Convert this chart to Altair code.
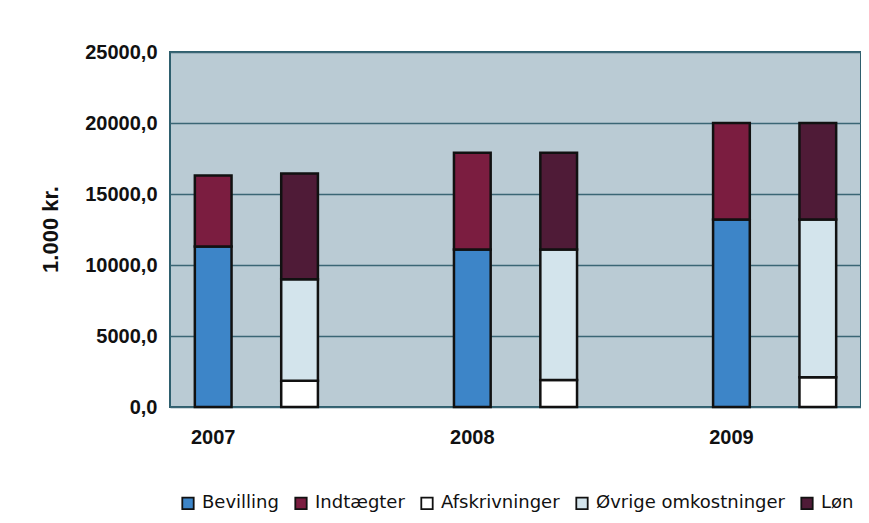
import altair as alt
import pandas as pd

years = ["2007", "2008", "2009"]
series = ["Bevilling", "Indtægter", "Afskrivninger", "Øvrige omkostninger", "Løn"]
colors = ["#3d85c8", "#7b1d40", "#ffffff", "#d3e4ec", "#4f1b37"]

bevilling = [11300, 11100, 13200]
indtaegter = [5000, 6800, 6800]
afskrivninger = [1850, 1900, 2100]
ovrige = [7150, 9200, 11100]
lon = [7450, 6800, 6800]

y_ticks = [0, 5000, 10000, 15000, 20000, 25000]

slots = ["2007", "2007 ", "g1", "2008", "2008 ", "g2", "2009", "2009 "]

rows = []
for i, yr in enumerate(years):
    left = yr
    right = yr + " "
    rows.append({"slot": left, "serie": "Bevilling", "value": bevilling[i], "ord": 0})
    rows.append({"slot": left, "serie": "Indtægter", "value": indtaegter[i], "ord": 1})
    rows.append({"slot": right, "serie": "Afskrivninger", "value": afskrivninger[i], "ord": 0})
    rows.append({"slot": right, "serie": "Øvrige omkostninger", "value": ovrige[i], "ord": 1})
    rows.append({"slot": right, "serie": "Løn", "value": lon[i], "ord": 2})
df = pd.DataFrame(rows)

bars = alt.Chart(df).mark_bar(stroke="#111111", strokeWidth=2.5).encode(
    x=alt.X(
        "slot:N",
        scale=alt.Scale(domain=slots, paddingInner=0.575, paddingOuter=0.2875),
        axis=alt.Axis(
            title=None,
            labelAngle=0,
            ticks=False,
            domain=False,
            labelFont="Liberation Sans",
            labelFontWeight="bold",
            labelFontSize=20,
            labelColor="#111111",
            labelPadding=20,
            labelExpr="indexof(['2007','2008','2009'], datum.value) >= 0 ? datum.value : ''",
        ),
    ),
    y=alt.Y(
        "value:Q",
        stack="zero",
        scale=alt.Scale(domain=[0, 25000], nice=False),
        axis=alt.Axis(
            values=y_ticks,
            title="1.000 kr.",
            titleFont="Liberation Sans",
            titleFontWeight="bold",
            titleFontSize=22,
            titleColor="#111111",
            titleAngle=270,
            titleX=-120,
            titleY=177,
            titleAlign="center",
            titleBaseline="middle",
            labelFont="Liberation Sans",
            labelFontWeight="bold",
            labelFontSize=20,
            labelColor="#111111",
            labelPadding=13,
            labelExpr="replace(format(datum.value, '.1f'), '.', ',')",
            ticks=False,
            domain=False,
            grid=True,
            gridColor="#3b6675",
            gridWidth=1.5,
        ),
    ),
    color=alt.Color(
        "serie:N",
        scale=alt.Scale(domain=series, range=colors),
        legend=alt.Legend(
            title=None,
            orient="none",
            direction="horizontal",
            columns=5,
            legendX=9,
            legendY=442,
            symbolType="square",
            symbolSize=130,
            symbolStrokeColor="#111111",
            symbolStrokeWidth=1.8,
            labelFont="DejaVu Sans",
            labelFontSize=18,
            labelColor="#111111",
            labelOffset=5,
            labelLimit=400,
            columnPadding=12,
        ),
    ),
    order=alt.Order("ord:Q", sort="ascending"),
).properties(
    width=691,
    height=355,
    background="#ffffff",
    autosize=alt.AutoSizeParams(type="none"),
    padding={"left": 162, "top": 44, "right": 0, "bottom": 107},
).configure_view(
    fill="#bacbd4",
    stroke="#2e5f6e",
    strokeWidth=2,
)

chart = bars
chart.save("out.html", embed_options={"renderer": "svg", "actions": False})
